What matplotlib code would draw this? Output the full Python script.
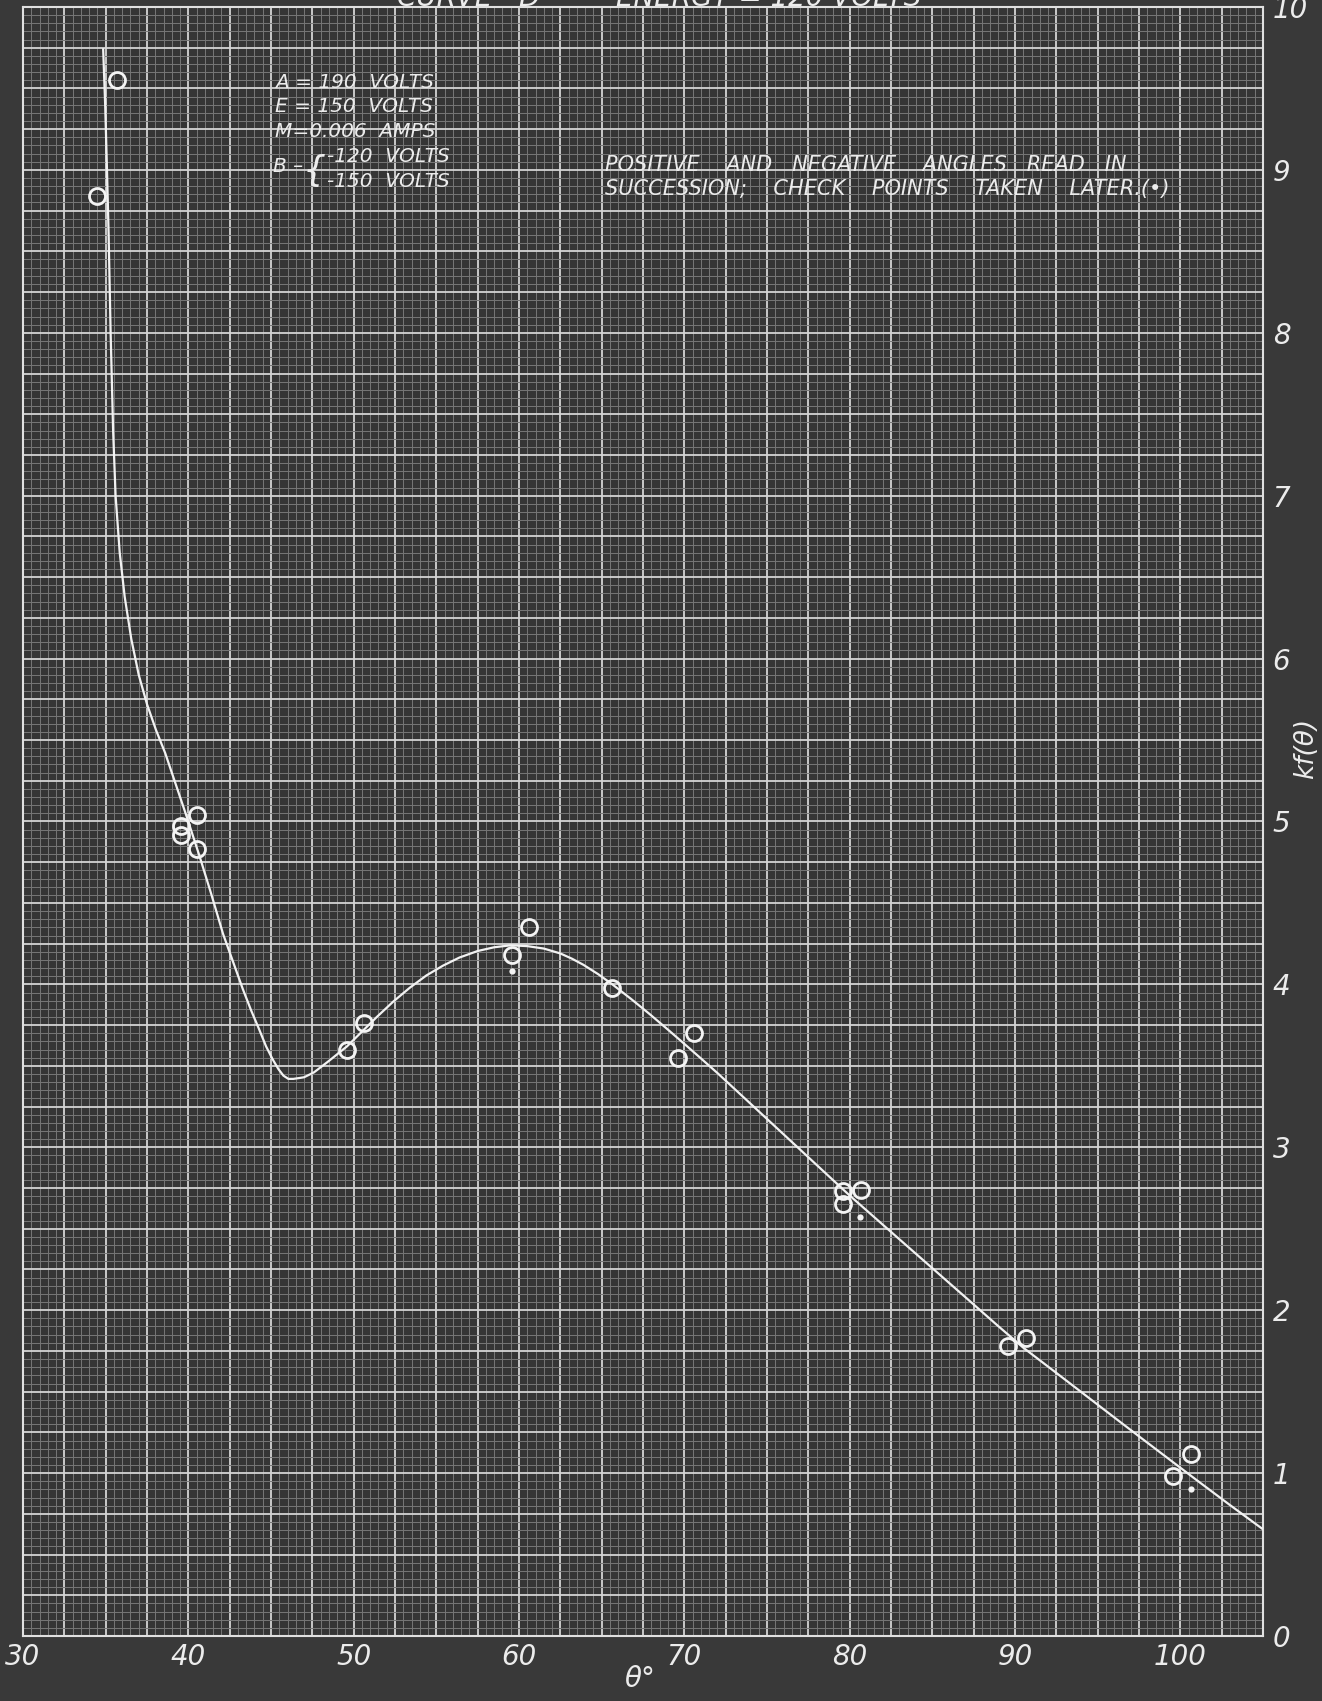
import matplotlib
matplotlib.use("Agg")
import matplotlib.pyplot as plt
from matplotlib.ticker import MultipleLocator, FuncFormatter

# Observed values of k f(theta) (open circles)
theta_obs = [34.5, 35.7, 39.55, 39.55, 40.5, 40.55, 49.6, 50.6, 59.55, 60.6,
             65.65, 69.6, 70.6, 79.6, 79.6, 80.7, 89.6, 90.65, 99.55, 100.65]
kf_obs = [8.84, 9.55, 4.97, 4.92, 5.04, 4.83, 3.60, 3.76, 4.18, 4.35,
          3.98, 3.55, 3.70, 2.73, 2.65, 2.74, 1.78, 1.83, 0.98, 1.12]

# Check points taken later (dots)
theta_check = [59.6, 80.6, 100.65]
kf_check = [4.08, 2.57, 0.90]

# Smooth curve drawn through the observations
theta_curve = [34.85, 34.97, 35.08, 35.18, 35.3, 35.45, 35.6, 35.85, 36.15, 36.55,
               37.0, 37.5, 38.05, 38.6, 39.2, 39.9, 40.7, 41.4, 42.1, 42.7,
               43.3, 43.8, 44.3, 44.7, 45.1, 45.45, 45.75, 46.05, 46.35, 46.7,
               47.0, 47.6, 48.5, 49.6, 50.5, 51.4, 52.4, 53.4, 54.4, 55.4,
               56.4, 57.5, 58.5, 59.5, 60.5, 61.5, 62.5, 63.2, 63.9, 64.8,
               65.7, 66.8, 67.9, 69.0, 70.0, 71.0, 72.0, 73.0, 74.0, 75.0,
               76.0, 77.0, 78.0, 79.0, 80.0, 81.5, 82.9, 84.0, 85.0, 86.2,
               87.3, 88.9, 90.5, 92.5, 94.4, 96.0, 97.6, 99.3, 101.0, 103.0,
               105.0]
kf_curve = [9.74, 9.4, 9.0, 8.6, 8.0, 7.4, 7.0, 6.65, 6.38, 6.12,
            5.9, 5.72, 5.56, 5.42, 5.24, 5.03, 4.78, 4.55, 4.31, 4.14,
            3.97, 3.84, 3.72, 3.62, 3.54, 3.48, 3.44, 3.42, 3.42, 3.425,
            3.43, 3.46, 3.53, 3.62, 3.71, 3.80, 3.895, 3.98, 4.055, 4.115,
            4.165, 4.205, 4.228, 4.24, 4.235, 4.22, 4.19, 4.158, 4.12, 4.062,
            3.996, 3.909, 3.818, 3.723, 3.635, 3.546, 3.456, 3.362, 3.268, 3.174,
            3.08, 2.986, 2.892, 2.798, 2.704, 2.57, 2.445, 2.347, 2.258, 2.151,
            2.053, 1.91, 1.77, 1.615, 1.467, 1.342, 1.218, 1.087, 0.956, 0.804,
            0.655]

x_labels = [30, 40, 50, 60, 70, 80, 90, 100]
y_labels = [0, 1, 2, 3, 4, 5, 6, 7, 8, 9, 10]

INK = "#ececec"
PAPER = "#393939"

plt.rcParams["font.family"] = ["DejaVu Sans"]
plt.rcParams["font.style"] = "oblique"

W, H = 1322, 1701
fig = plt.figure(figsize=(W / 100, H / 100), dpi=100, facecolor=PAPER)

L, R, T, B = 23, 1263, 7, 1636
ax = fig.add_axes([L / W, (H - B) / H, (R - L) / W, (B - T) / H])
ax.set_facecolor("#353535")
ax.set_xlim(30, 105)
ax.set_ylim(0, 10)

ax.xaxis.set_major_locator(MultipleLocator(2.5))
ax.xaxis.set_minor_locator(MultipleLocator(0.5))
ax.yaxis.set_major_locator(MultipleLocator(0.25))
ax.yaxis.set_minor_locator(MultipleLocator(0.05))


def only(values):
    def fmt(v, pos):
        for t in values:
            if abs(v - t) < 1e-6:
                return f"{t:d}"
        return ""
    return FuncFormatter(fmt)


ax.xaxis.set_major_formatter(only(x_labels))
ax.yaxis.set_major_formatter(only(y_labels))
ax.yaxis.tick_right()
ax.tick_params(which="both", length=0)
ax.tick_params(axis="x", which="major", labelsize=20, labelcolor=INK, pad=5)
ax.tick_params(axis="y", which="major", labelsize=20, labelcolor=INK, pad=7)

ax.set_axisbelow(True)
ax.grid(which="minor", color="#777777", linewidth=0.7)
ax.grid(which="major", color="#d4d4d4", linewidth=1.3)
for s in ax.spines.values():
    s.set_color("#e0e0e0")
    s.set_linewidth(1.5)

# fitted curve, observations and check points
ax.plot(theta_curve, kf_curve, color="#f2f2f2", lw=1.6, zorder=3,
        solid_joinstyle="round")
ax.plot(theta_obs, kf_obs, "o", ms=11.5, mfc="none", mec="#f4f4f4", mew=2.0,
        zorder=4)
ax.plot(theta_check, kf_check, "o", ms=4.5, mfc="#f4f4f4", mec="none",
        zorder=4)


def px(x, y):
    """figure-pixel position -> data coordinates"""
    return 30 + (x - L) / ((R - L) / 75.0), (B - y) / ((B - T) / 10.0)


txt = dict(color=INK, fontsize=14.5, ha="left", va="baseline", zorder=5)
for s, yy in [("A = 190  VOLTS", 88), ("E = 150  VOLTS", 112),
              ("M=0.006  AMPS", 137)]:
    ax.text(*px(275, yy), s, **txt)
ax.text(*px(273, 167), "B –", color=INK, fontsize=14.5, ha="left",
        va="center", zorder=5)
ax.text(*px(326, 171), "{", color=INK, fontsize=26, ha="right",
        va="center", zorder=5)
ax.text(*px(327, 162), "-120  VOLTS", **txt)
ax.text(*px(327, 187), "-150  VOLTS", **txt)

note = dict(txt, fontsize=15)
ax.text(*px(605, 171), "POSITIVE    AND   NEGATIVE    ANGLES   READ   IN",
        **note)
ax.text(*px(605, 195), "SUCCESSION;    CHECK    POINTS    TAKEN    LATER.(•)",
        **note)

# heading along the top edge
fig.text(397 / W, 1 - 6 / H, "CURVE   D", color=INK, fontsize=20,
         ha="left", va="baseline")
fig.text(616 / W, 1 - 6 / H, "ENERGY = 120 VOLTS", color=INK, fontsize=20,
         ha="left", va="baseline")

# axis titles
fig.text(640 / W, 1 - 1679 / H, "θ°", color=INK, fontsize=20, ha="center",
         va="center")
fig.text(1306 / W, 1 - 748 / H, "kf(θ)", color=INK, fontsize=19,
         ha="center", va="center", rotation=90)

fig.savefig("out.png", dpi=100, facecolor=PAPER)
